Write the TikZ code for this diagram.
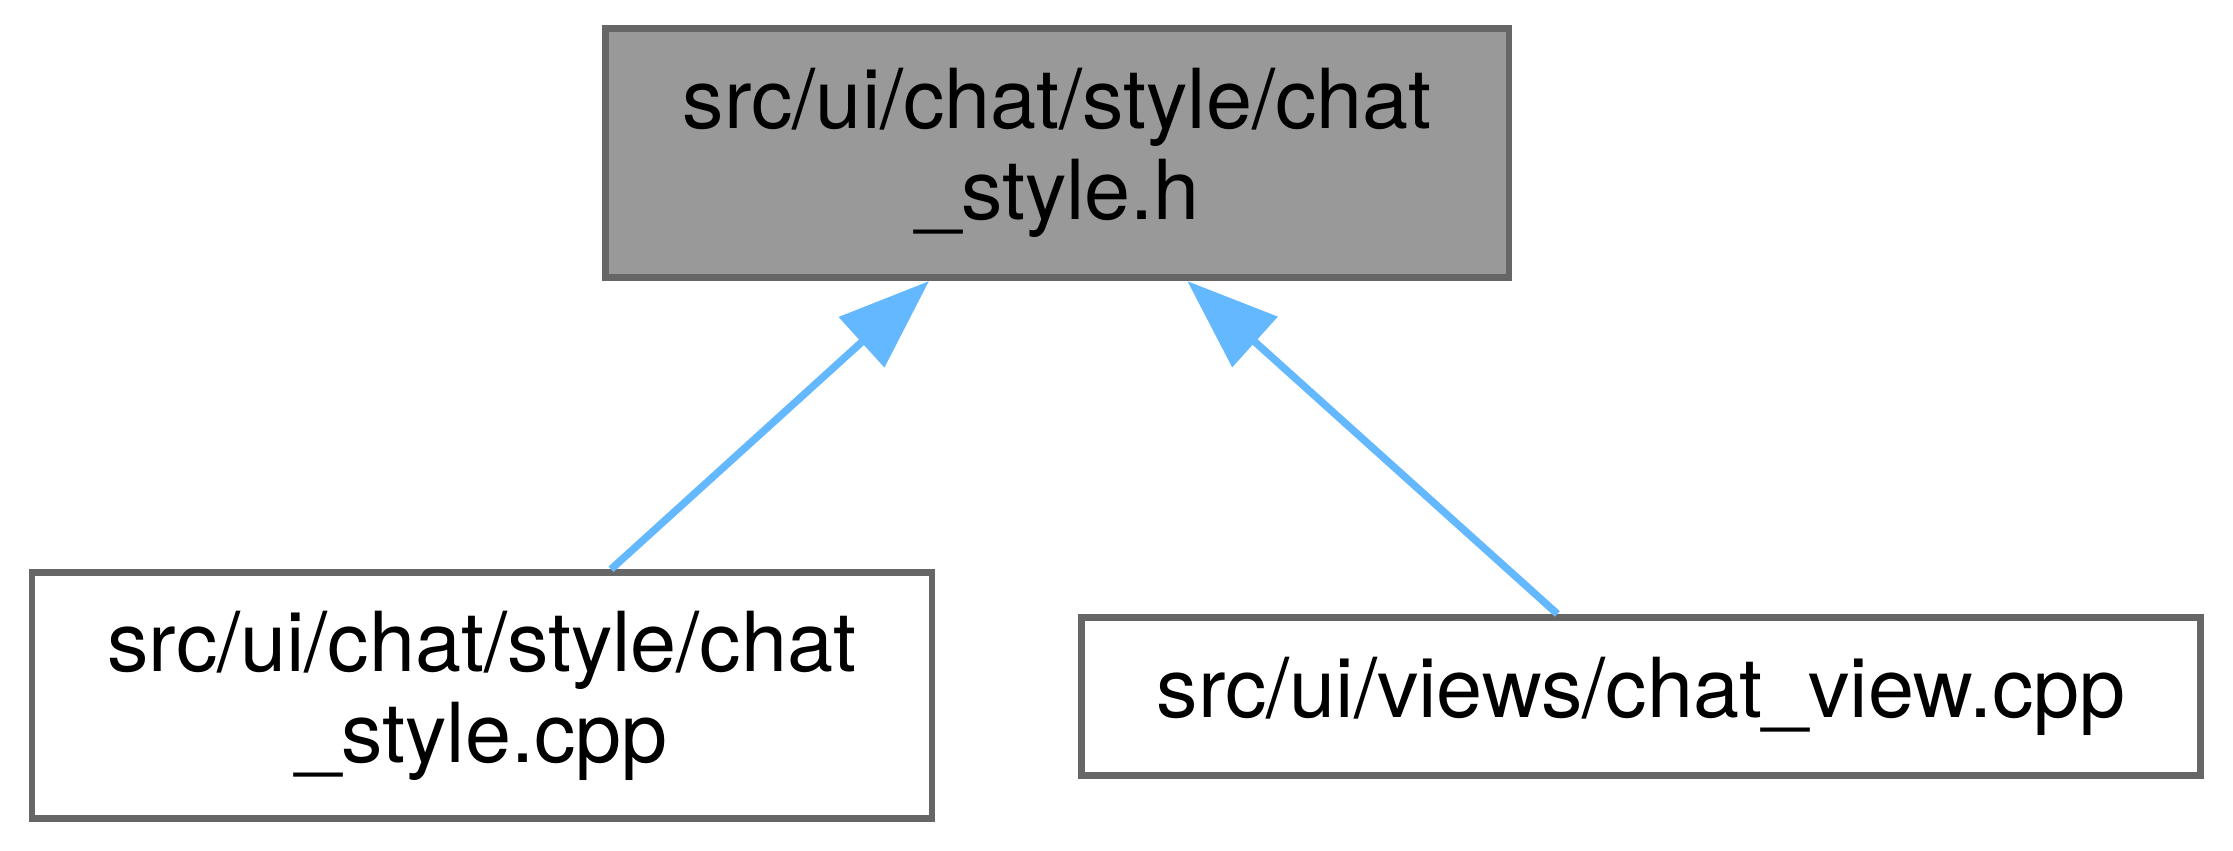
\documentclass[tikz,border=0pt]{standalone}
\usepackage{fontspec}
\setmainfont{TeX Gyre Heros}
\usepackage{xcolor}
\usetikzlibrary{arrows.meta, positioning}

\definecolor{nodegray}{HTML}{999999}
\definecolor{bordergray}{HTML}{666666}
\definecolor{edgeblue}{HTML}{63B8FF}

\begin{document}
\begin{tikzpicture}[x=1pt, y=1pt,
   filebox/.style={draw=bordergray, line width=0.8pt, rectangle, inner sep=0pt,
      align=center, font=\fontsize{10}{11}\selectfont},
   dep/.style={draw=edgeblue, line width=0.9pt, -{Triangle[length=11pt, width=8pt]}}]
\useasboundingbox (0,0) rectangle (269.7,102.7);

% Header file
\node[filebox, fill=nodegray, minimum width=109.1pt, minimum height=30.1pt] (hdr) at (127.7, 84.2)
   {src/ui/chat/style/chat\\\_style.h};

% Files that include it
\node[filebox, minimum width=108.7pt, minimum height=29.7pt] (stylecpp) at (58.2, 18.7)
   {src/ui/chat/style/chat\\\_style.cpp};
\node[filebox, minimum width=135.1pt, minimum height=19.1pt] (viewcpp) at (198.2, 18.6)
   {src/ui/views/chat\_view.cpp};

% Include edges
\draw[dep] ([xshift=15.6pt]stylecpp.north) -- ([xshift=-15.5pt]hdr.south);
\draw[dep] ([xshift=-10.1pt]viewcpp.north) -- ([xshift=15.7pt]hdr.south);
\end{tikzpicture}
\end{document}
